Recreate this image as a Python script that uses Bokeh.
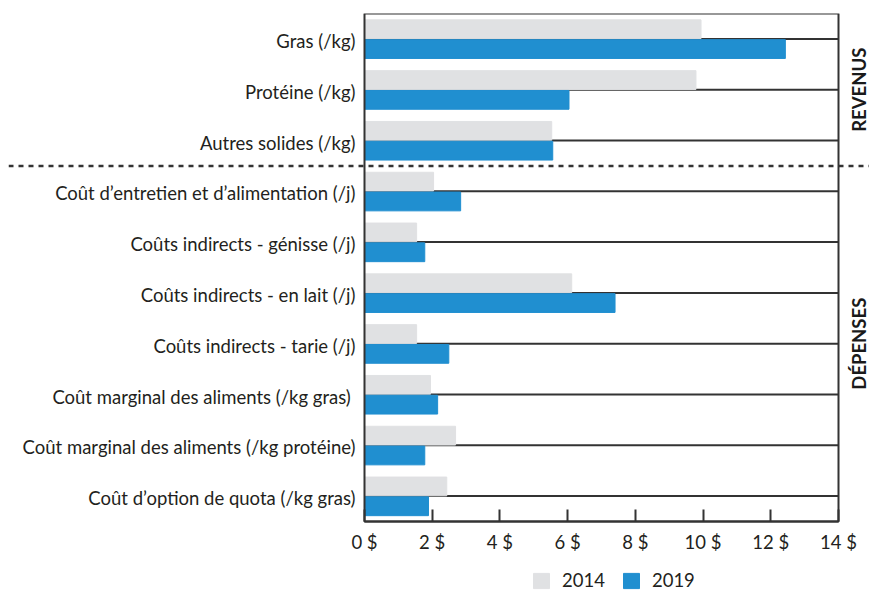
import math
from bokeh.plotting import figure
from bokeh.models import (ColumnDataSource, Range1d, FixedTicker,
                          Legend, LegendItem, Span)
from bokeh.core.properties import value
from bokeh.transform import dodge
from bokeh.embed import file_html
from bokeh.resources import INLINE

categories = [
    "Gras (/kg)",
    "Protéine (/kg)",
    "Autres solides (/kg)",
    "Coût d’entretien et d’alimentation (/j)",
    "Coûts indirects - génisse (/j)",
    "Coûts indirects - en lait (/j)",
    "Coûts indirects - tarie (/j)",
    "Coût marginal des aliments  (/kg gras)",
    "Coût marginal des aliments (/kg protéine)",
    "Coût d’option de quota (/kg gras)",
]
values_2014 = [9.94, 9.79, 5.53, 2.04, 1.54, 6.12, 1.54, 1.95, 2.69, 2.43]
values_2019 = [12.43, 6.04, 5.56, 2.84, 1.78, 7.40, 2.49, 2.16, 1.78, 1.89]
series_names = ["2014", "2019"]
x_ticks = [0, 2, 4, 6, 8, 10, 12, 14]
x_tick_labels = ["0 $", "2 $", "4 $", "6 $", "8 $", "10 $", "12 $", "14 $"]
groups = ["REVENUS", "DÉPENSES"]
group_sizes = [3, 7]

FONT = "Lato"
DARK = "#333333"
TEXT = "#231f20"
GREY = "#e0e1e3"
BLUE = "#208fd0"

# layout (pixels)
W, H = 869, 591
FRAME_L, FRAME_T = 8, 13
AX0_PX, AX1_PX = 364, 838          # where x_ticks[0] and x_ticks[-1] fall
AXIS_Y_PX = 521                    # where the x axis line falls
ppu_x = (AX1_PX - AX0_PX) / (x_ticks[-1] - x_ticks[0])
x_start = x_ticks[0] - (AX0_PX - FRAME_L) / ppu_x
x_end = x_ticks[-1] + (W - AX1_PX) / ppu_x

n = len(categories)
ppu_y = (AXIS_Y_PX - FRAME_T) / n
y_start = -(H - AXIS_Y_PX) / ppu_y

row_pos = [n - 0.5 - i for i in range(n)]   # row centres, top to bottom
source = ColumnDataSource(data=dict(cat=categories, pos=row_pos,
                                    v2014=values_2014, v2019=values_2019,
                                    x0=[x_ticks[0]] * n, x1=[x_ticks[-1]] * n))

p = figure(width=W, height=H, output_backend="svg", toolbar_location=None,
           x_range=Range1d(x_start, x_end), y_range=Range1d(y_start, n),
           y_axis_location=None,
           min_border_left=FRAME_L, min_border_right=0, min_border_top=FRAME_T,
           min_border_bottom=0)
p.outline_line_color = None
p.xgrid.visible = False
p.ygrid.visible = False

# row lines through category centres
p.segment(x0="x0", x1="x1", y0="pos", y1="pos", source=source,
          line_color=DARK, line_width=2)

r1 = p.hbar(y=dodge("pos", 0.19), right="v2014", left=0, height=0.37,
            source=source, color=GREY)
r2 = p.hbar(y=dodge("pos", -0.2), right="v2019", left=0, height=0.37,
            source=source, color=BLUE)

# frame box
p.quad(left=x_ticks[0], right=x_ticks[-1], bottom=0, top=n,
       fill_color=None, line_color=DARK, line_width=2)

# category labels
p.text(x=x_ticks[0] - 9 / ppu_x, y="pos", text="cat", source=source,
       text_align="right", text_baseline="middle", y_offset=2,
       text_font=value(FONT), text_font_size="18.5px", text_color=TEXT)

# group separator
p.add_layout(Span(location=n - group_sizes[0], dimension="width",
                  line_color=DARK, line_width=2.5, line_dash="5 5"))

# group labels
gy, top = [], n
for s in group_sizes:
    gy.append(top - s / 2)
    top -= s
p.text(x=[x_ticks[-1] + 20 / ppu_x] * len(groups), y=gy, text=groups, angle=math.pi / 2,
       text_align="center", text_baseline="middle",
       text_font=value(FONT), text_font_style="bold", text_font_size="18.5px",
       text_color="#1a1a1a")

xa = p.xaxis[0]
xa.fixed_location = 0
xa.bounds = (x_ticks[0], x_ticks[-1])
xa.ticker = FixedTicker(ticks=x_ticks)
xa.major_label_overrides = {t: l for t, l in zip(x_ticks, x_tick_labels)}
xa.major_tick_in = 12
xa.major_tick_out = 0
xa.major_tick_line_color = DARK
xa.major_tick_line_width = 2
xa.minor_tick_line_color = None
xa.axis_line_color = DARK
xa.axis_line_width = 2
xa.major_label_standoff = 9
xa.major_label_text_font = FONT
xa.major_label_text_font_size = "18.5px"
xa.major_label_text_color = TEXT

legend = Legend(items=[LegendItem(label=series_names[0], renderers=[r1]),
                       LegendItem(label=series_names[1], renderers=[r2])],
                orientation="horizontal", location=(531 - FRAME_L, 0),
                glyph_width=20, glyph_height=19, label_standoff=11, spacing=16,
                padding=0, margin=0, border_line_color=None, background_fill_alpha=0,
                label_text_font=FONT, label_text_font_size="18.5px", label_text_color=TEXT)
p.add_layout(legend)

open("out.html", "w").write(file_html(p, INLINE))
